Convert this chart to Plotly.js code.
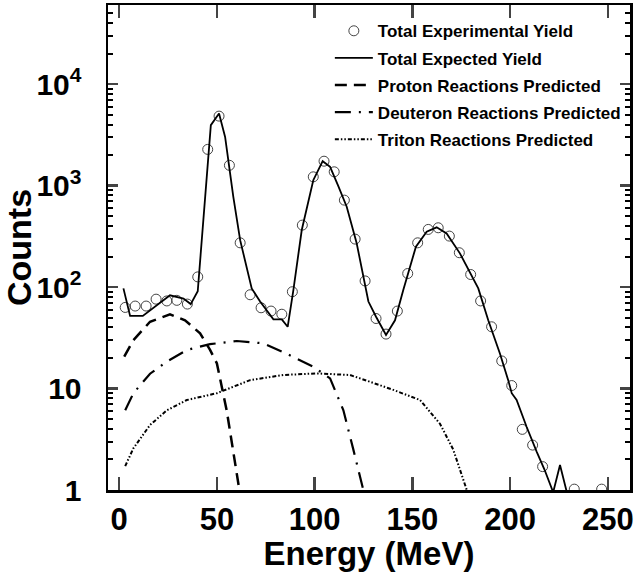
<!DOCTYPE html>
<html>
<head>
<meta charset="utf-8">
<script src="https://cdn.plot.ly/plotly-3.0.1.min.js"></script>
<style>html,body{margin:0;padding:0;background:#fff;}#chart{width:638px;height:572px;}</style>
</head>
<body>
<div id="chart"></div>
<script>
// Experimental yield (circles)
const expE = [3.1, 8.2, 13.8, 18.9, 24.4, 29.5, 34.9, 40.2, 45.3, 51.1, 56.4, 61.9, 67.0, 72.6, 77.7, 83.2, 88.6, 93.7, 99.3, 104.8, 110.0, 115.2, 120.7, 125.8, 131.4, 136.5, 142.3, 147.6, 152.7, 158.1, 163.2, 168.9, 174.0, 179.8, 184.9, 190.5, 195.7, 200.8, 206.2, 211.5, 216.6, 232.8, 246.8];
const expY = [63, 65, 65, 76, 73, 74, 68, 126, 2275, 4840, 1585, 273, 84, 62.5, 58, 54, 90, 408, 1220, 1740, 1368, 719, 297, 115, 49, 34.4, 58, 136, 273, 370, 384, 318, 218, 133, 73, 40.6, 18.7, 10.7, 3.96, 2.77, 1.70, 1.02, 1.02];

// Total expected yield (solid line)
const totE = [2.2, 5.6, 12.1, 19.0, 26.0, 32.9, 36.6, 40.2, 41.4, 44.0, 46.9, 51.1, 54.2, 58.4, 61.9, 67.8, 72.1, 78.9, 83.2, 86.2, 89.1, 93.4, 99.3, 104.1, 107.9, 112.0, 116.4, 121.5, 127.5, 131.4, 136.5, 141.1, 145.3, 151.8, 157.3, 162.4, 167.5, 174.3, 179.4, 183.7, 188.8, 194.8, 199.0, 200.8, 203.3, 208.4, 213.6, 217.5, 222.0, 225.5, 229.0];
const totY = [97, 52, 52, 66, 83, 77, 68, 91, 172, 776, 3945, 5130, 3020, 776, 290, 97, 72, 48, 48, 40.6, 93, 365, 1130, 1740, 1530, 1000, 620, 270, 72, 51, 33.7, 47, 93, 250, 351, 388, 338, 215, 142, 97, 47, 22, 12.1, 9, 7.7, 4.2, 2.38, 1.6, 0.95, 1.76, 0.95];

// Proton reactions predicted
const proE = [2.6, 7.3, 15.8, 26.0, 33.7, 41.4, 46.5, 50.0, 55.0, 58.4, 61.5];
const proY = [20.6, 30, 45.5, 53.8, 47, 35, 24, 17.7, 6.1, 2.3, 1.0];

// Deuteron reactions predicted
const deuE = [3.1, 7.3, 15.8, 24.4, 34.6, 46.5, 60.2, 73.8, 85.7, 99.3, 107.9, 114.7, 119.8, 124.9];
const deuY = [6.1, 9, 14, 18.4, 24, 27.4, 29.4, 27.9, 22, 16.4, 12.6, 6.1, 2.5, 1.0];

// Triton reactions predicted
const triE = [3.1, 7.3, 15.8, 24.4, 34.6, 50.0, 67.0, 84.0, 101.0, 118.0, 123.2, 140.2, 153.9, 164.1, 170.9, 177.8];
const triY = [1.72, 2.58, 4.37, 6.1, 7.7, 9, 12.1, 13.6, 14.1, 13.6, 12.6, 9.7, 7.7, 4.5, 2.5, 1.0];

const xTicks = [0, 50, 100, 150, 200, 250];
const yTicks = [1, 10, 100, 1000, 10000];
const yTickText = ['1', '10', '10<sup>2</sup>', '10<sup>3</sup>', '10<sup>4</sup>'];
const yMinor = [];
for (const d of [1, 10, 100, 1000, 10000]) for (let k = 2; k <= 9; k++) yMinor.push(d * k);

const traces = [
  {x: expE, y: expY, type: 'scatter', mode: 'markers', name: 'Total Experimental Yield', legendgroup: 'a',
   marker: {symbol: 'circle-open', size: 10, color: '#444', line: {width: 1}}},
  {x: totE, y: totY, type: 'scatter', mode: 'lines', name: 'Total Expected Yield', legendgroup: 'b',
   line: {color: '#000', width: 1.8}},
  {x: proE, y: proY, type: 'scatter', mode: 'lines', name: 'Proton Reactions Predicted', legendgroup: 'c',
   line: {color: '#000', width: 2.5, dash: '12px,7px'}},
  {x: deuE, y: deuY, type: 'scatter', mode: 'lines', name: 'Deuteron Reactions Predicted', legendgroup: 'd',
   line: {color: '#000', width: 2.2, dash: '16px,8px,2px,8px'}},
  {x: triE, y: triY, type: 'scatter', mode: 'lines', name: 'Triton Reactions Predicted', legendgroup: 'e',
   line: {color: '#000', width: 2, dash: '4px,2px,1.5px,2px,1.5px,2px'}},
  {x: [], y: [], yaxis: 'y2', showlegend: false, hoverinfo: 'skip'}
];

const font = {family: 'Liberation Sans, Arial, sans-serif', color: '#000'};
const layout = {
  width: 638, height: 572,
  margin: {l: 108, r: 8, t: 5, b: 82},
  paper_bgcolor: '#fff', plot_bgcolor: '#fff',
  showlegend: true,
  font: font,
  xaxis: {
    range: [-5.7, 261.3], tickvals: xTicks, ticks: 'inside', ticklen: 13, tickwidth: 2.5,
    showline: true, linewidth: 2.5, linecolor: '#000', mirror: 'ticks', showgrid: false, zeroline: false,
    tickfont: {family: font.family, size: 31, weight: 'bold'},
    title: {text: 'Energy (MeV)', font: {family: font.family, size: 33, weight: 'bold'}, standoff: 0}
  },
  yaxis: {
    type: 'log', range: [0, 4.78], tickvals: yTicks, ticktext: yTickText, ticks: 'inside', ticklen: 10, tickwidth: 2.5,
    showline: true, linewidth: 2.5, linecolor: '#000', mirror: 'ticks', showgrid: false, zeroline: false,
    ticklabelstandoff: 18,
    tickfont: {family: font.family, size: 30, weight: 'bold'},
    title: {text: 'Counts', font: {family: font.family, size: 34, weight: 'bold'}, standoff: 0}
  },
  yaxis2: {
    type: 'log', range: [0, 4.78], overlaying: 'y', side: 'left', tickvals: yMinor, ticks: 'inside', ticklen: 5, tickwidth: 2,
    showticklabels: false, showline: false, mirror: 'ticks', showgrid: false, zeroline: false, tickcolor: '#000'
  },
  legend: {
    x: 0.425, y: 0.983, xanchor: 'left', yanchor: 'top', bgcolor: 'rgba(0,0,0,0)',
    font: {family: font.family, size: 17, weight: 'bold'}, itemwidth: 38, tracegroupgap: 2
  }
};

Plotly.newPlot('chart', traces, layout, {displayModeBar: false, staticPlot: true});
</script>
</body>
</html>
